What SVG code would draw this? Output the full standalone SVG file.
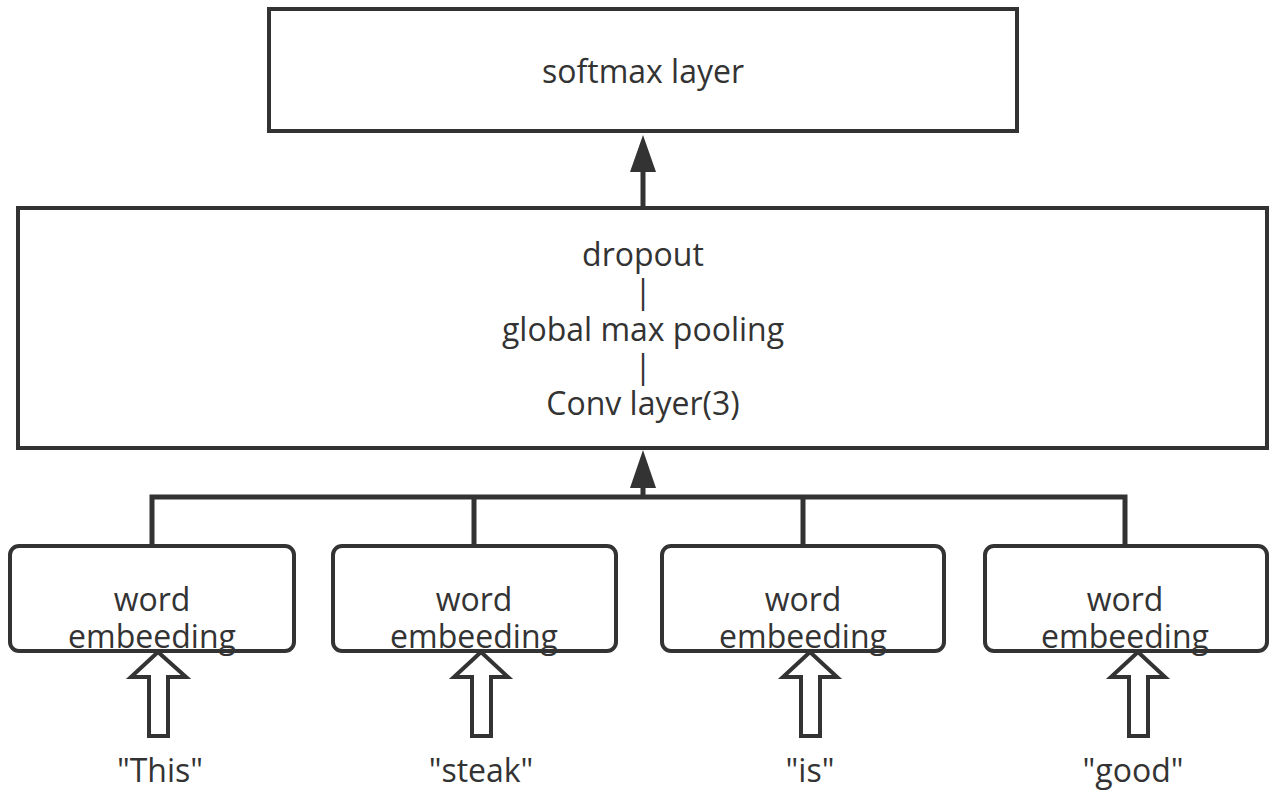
<svg xmlns="http://www.w3.org/2000/svg" width="1282" height="800" viewBox="0 0 1282 800">
<style>
.box{fill:#fff;stroke:#333;stroke-width:4}
.wbox{fill:#fff;stroke:#333;stroke-width:4}
.line{fill:none;stroke:#333;stroke-width:5}
.hollow{fill:#fff;stroke:#333;stroke-width:4;stroke-linejoin:miter}
text{font-family:"Open Sans","Noto Sans",sans-serif;font-size:32px;fill:#333;text-anchor:middle}
</style>
<rect width="1282" height="800" fill="#fff"/>
<g id="connectors">
<path class="line" d="M643 207 V170"/>
<polygon points="643,135 630,172 656,172" fill="#333"/>
<path class="line" d="M152 546 V497 H1125 V546 M474 497 V546 M803 497 V546 M643 497 V488"/>
<polygon points="643,450 630,488 656,488" fill="#333"/>
</g>
<g id="softmax">
<rect class="box" x="269" y="9" width="748" height="122"/>
<text x="643" y="83">softmax layer</text>
</g>
<g id="middle">
<rect class="box" x="18" y="208" width="1249" height="240"/>
<text x="643" y="266">dropout</text>
<text x="643" y="303">|</text>
<text x="643" y="341">global max pooling</text>
<text x="643" y="378">|</text>
<text x="643" y="415">Conv layer(3)</text>
</g>
<g id="emb1">
<rect class="wbox" x="10" y="546" width="284" height="105" rx="9"/>
<text x="152" y="611">word</text>
<text x="152" y="648">embeeding</text>
</g>
<g id="emb2">
<rect class="wbox" x="333" y="546" width="283" height="105" rx="9"/>
<text x="474" y="611">word</text>
<text x="474" y="648">embeeding</text>
</g>
<g id="emb3">
<rect class="wbox" x="662" y="546" width="282" height="105" rx="9"/>
<text x="803" y="611">word</text>
<text x="803" y="648">embeeding</text>
</g>
<g id="emb4">
<rect class="wbox" x="985" y="546" width="282" height="105" rx="9"/>
<text x="1125" y="611">word</text>
<text x="1125" y="648">embeeding</text>
</g>
<g id="in1">
<polygon class="hollow" points="158,652 131,677 149,677 149,736 168,736 168,677 186,677"/>
<text x="160" y="782">"This"</text>
</g>
<g id="in2">
<polygon class="hollow" points="481,652 454,677 472,677 472,736 491,736 491,677 508,677"/>
<text x="481" y="782">"steak"</text>
</g>
<g id="in3">
<polygon class="hollow" points="810,652 783,677 801,677 801,736 820,736 820,677 837,677"/>
<text x="810" y="782">"is"</text>
</g>
<g id="in4">
<polygon class="hollow" points="1138,652 1111,677 1129,677 1129,736 1148,736 1148,677 1165,677"/>
<text x="1133" y="782">"good"</text>
</g>
</svg>
